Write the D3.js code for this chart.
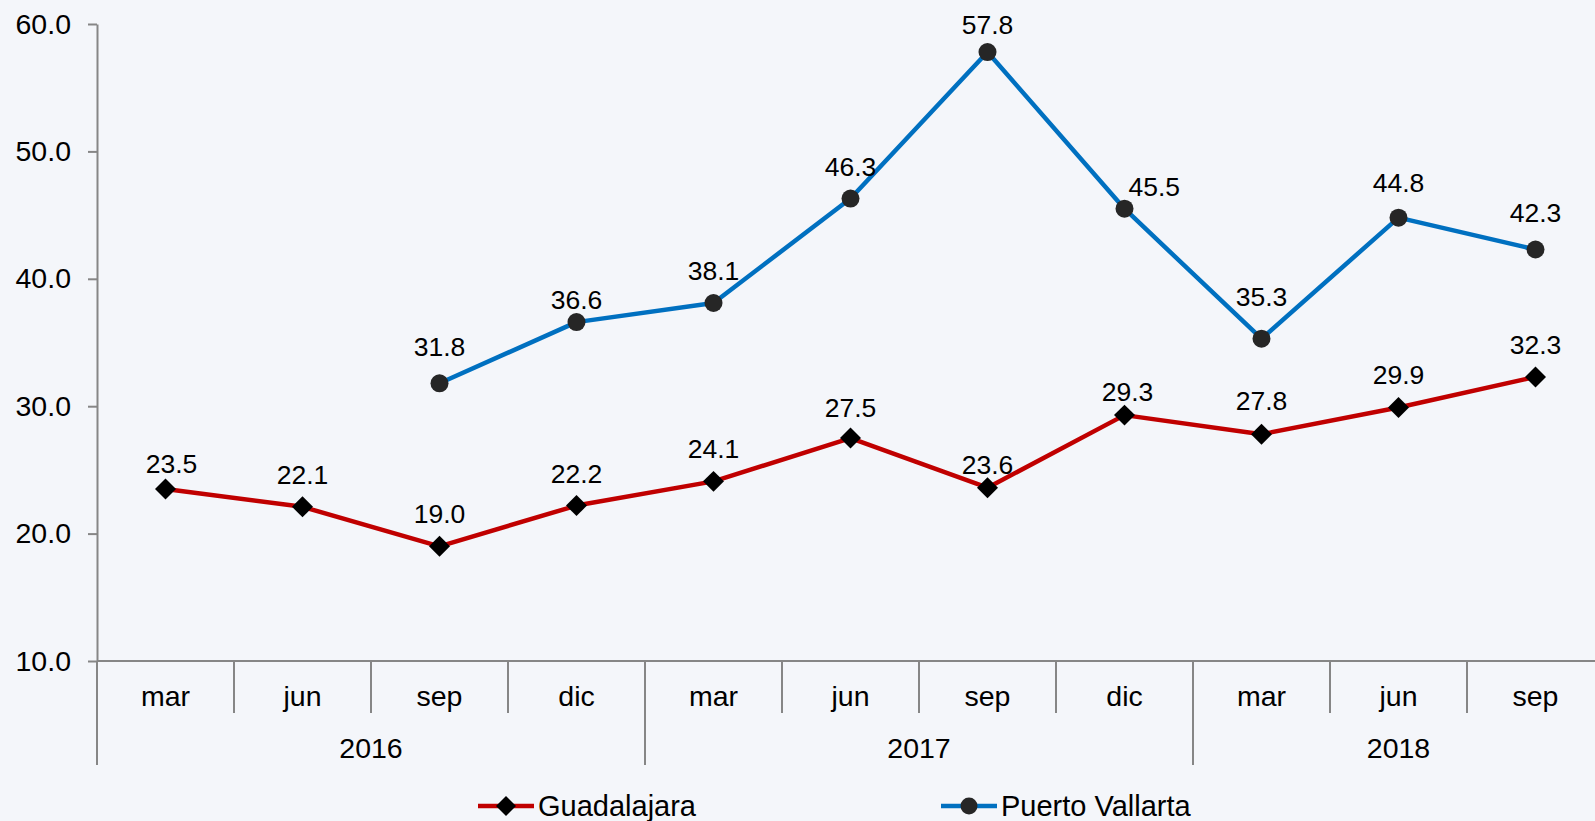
<!DOCTYPE html>
<html>
<head>
<meta charset="utf-8">
<script src="https://cdn.jsdelivr.net/npm/d3@7"></script>
<style>
  body { margin: 0; background: #f4f6fa; }
  svg { display: block; font-family: "Liberation Sans", Arial, sans-serif; }
</style>
</head>
<body>
<div id="chart"></div>
<script>
// data
const months = ["mar", "jun", "sep", "dic", "mar", "jun", "sep", "dic", "mar", "jun", "sep"];
const years = ["2016", "2017", "2018"];
const yearSpans = [4, 4, 3]; // number of quarters in each year group
const guadalajara = [23.5, 22.1, 19.0, 22.2, 24.1, 27.5, 23.6, 29.3, 27.8, 29.9, 32.3];
const puertoVallarta = [null, null, 31.8, 36.6, 38.1, 46.3, 57.8, 45.5, 35.3, 44.8, 42.3];
const yTicks = [10, 20, 30, 40, 50, 60];

// how far each data label's baseline sits above its marker (px)
const gdlLabelLift = [16, 23, 23, 23, 23, 21, 14, 14, 24, 23, 23];
const pvLabelLift = [0, 0, 27, 13, 23, 23, 18, 13, 33, 26, 27];

const width = 1595, height = 821;
const plotLeft = 97, plotTop = 24, plotBottom = 661;
const band = 137;

const svg = d3.select("#chart").append("svg")
    .attr("width", width)
    .attr("height", height);

svg.append("rect").attr("width", width).attr("height", height).attr("fill", "#f4f6fa");

// scales
const x = d3.scaleBand()
    .domain(d3.range(months.length))
    .range([plotLeft, plotLeft + band * months.length])
    .padding(0);

const y = d3.scaleLinear()
    .domain([10, 60])
    .range([plotBottom, plotTop]);

const axisColor = "#868686";

// y axis
const yAxis = svg.append("g")
    .attr("transform", `translate(${plotLeft},0)`)
    .call(d3.axisLeft(y).tickValues(yTicks).tickFormat(d3.format(".1f")).tickSize(9).tickSizeOuter(0).tickPadding(17));
yAxis.selectAll("path, line").attr("stroke", axisColor).attr("stroke-width", 2);
yAxis.selectAll("text").attr("font-size", 28.5).attr("fill", "#000").attr("font-family", "Liberation Sans, Arial, sans-serif");

// x axis baseline
svg.append("line")
    .attr("x1", plotLeft).attr("x2", x.range()[1])
    .attr("y1", plotBottom).attr("y2", plotBottom)
    .attr("stroke", axisColor).attr("stroke-width", 2);

// dividers between quarters, longer ones between years
const yearStarts = [0];
yearSpans.forEach((s, i) => yearStarts.push(yearStarts[i] + s));
d3.range(months.length + 1).forEach(i => {
    const xx = i < months.length ? x(i) : x.range()[1];
    const isYear = yearStarts.includes(i);
    svg.append("line")
        .attr("x1", xx).attr("x2", xx)
        .attr("y1", plotBottom).attr("y2", isYear ? 765 : 713)
        .attr("stroke", axisColor).attr("stroke-width", 2);
});

svg.selectAll(".month")
    .data(months)
    .enter()
    .append("text")
    .attr("class", "month")
    .attr("x", (d, i) => x(i) + x.bandwidth() / 2)
    .attr("y", 706)
    .attr("text-anchor", "middle")
    .attr("font-size", 28.5)
    .text(d => d);

svg.selectAll(".year")
    .data(years)
    .enter()
    .append("text")
    .attr("class", "year")
    .attr("x", (d, i) => (x(yearStarts[i]) + x(yearStarts[i + 1] - 1) + x.bandwidth()) / 2)
    .attr("y", 758)
    .attr("text-anchor", "middle")
    .attr("font-size", 28.5)
    .text(d => d);

// lines
const cx = i => x(i) + x.bandwidth() / 2;
const line = d3.line()
    .defined(d => d != null)
    .x((d, i) => cx(i))
    .y(d => y(d));

svg.append("path")
    .datum(guadalajara)
    .attr("fill", "none")
    .attr("stroke", "#c00000")
    .attr("stroke-width", 4.5)
    .attr("stroke-linejoin", "round")
    .attr("d", line);

svg.append("path")
    .datum(puertoVallarta)
    .attr("fill", "none")
    .attr("stroke", "#0070c0")
    .attr("stroke-width", 4.5)
    .attr("stroke-linejoin", "round")
    .attr("d", line);

// markers
const diamond = d3.symbol().type(d3.symbolSquare).size(220);
svg.selectAll(".gdl")
    .data(guadalajara)
    .enter()
    .append("path")
    .attr("class", "gdl")
    .attr("d", diamond)
    .attr("transform", (d, i) => `translate(${cx(i)},${y(d)}) rotate(45)`)
    .attr("fill", "#000");

const pvData = puertoVallarta.map((v, i) => ({ v, i })).filter(d => d.v != null);
svg.selectAll(".pv")
    .data(pvData)
    .enter()
    .append("circle")
    .attr("class", "pv")
    .attr("cx", d => cx(d.i))
    .attr("cy", d => y(d.v))
    .attr("r", 9)
    .attr("fill", "#262626");

// data labels
const fmt = d3.format(".1f");
svg.selectAll(".gdl-label")
    .data(guadalajara)
    .enter()
    .append("text")
    .attr("class", "gdl-label")
    .attr("x", (d, i) => cx(i) + (i === 0 ? 6 : i === 7 ? 3 : 0))
    .attr("y", (d, i) => y(d) - gdlLabelLift[i])
    .attr("text-anchor", "middle")
    .attr("font-size", 26.5)
    .text(d => fmt(d));

svg.selectAll(".pv-label")
    .data(pvData)
    .enter()
    .append("text")
    .attr("class", "pv-label")
    .attr("x", d => cx(d.i) + (d.i === 7 ? 4 : 0))
    .attr("y", d => y(d.v) - pvLabelLift[d.i])
    .attr("text-anchor", d => d.i === 7 ? "start" : "middle")
    .attr("font-size", 26.5)
    .text(d => fmt(d.v));

// legend
const legend = [
    { name: "Guadalajara", color: "#c00000", x: 478, shape: "diamond" },
    { name: "Puerto Vallarta", color: "#0070c0", x: 941, shape: "circle" }
];
legend.forEach(l => {
    const g = svg.append("g");
    g.append("line")
        .attr("x1", l.x).attr("x2", l.x + 56)
        .attr("y1", 806).attr("y2", 806)
        .attr("stroke", l.color).attr("stroke-width", 4.5);
    if (l.shape === "diamond") {
        g.append("path")
            .attr("d", d3.symbol().type(d3.symbolSquare).size(200))
            .attr("transform", `translate(${l.x + 28},806) rotate(45)`)
            .attr("fill", "#000");
    } else {
        g.append("circle").attr("cx", l.x + 28).attr("cy", 806).attr("r", 8.5).attr("fill", "#262626");
    }
    g.append("text")
        .attr("x", l.x + 60)
        .attr("y", 816)
        .attr("font-size", 29)
        .text(l.name);
});
</script>
</body>
</html>
